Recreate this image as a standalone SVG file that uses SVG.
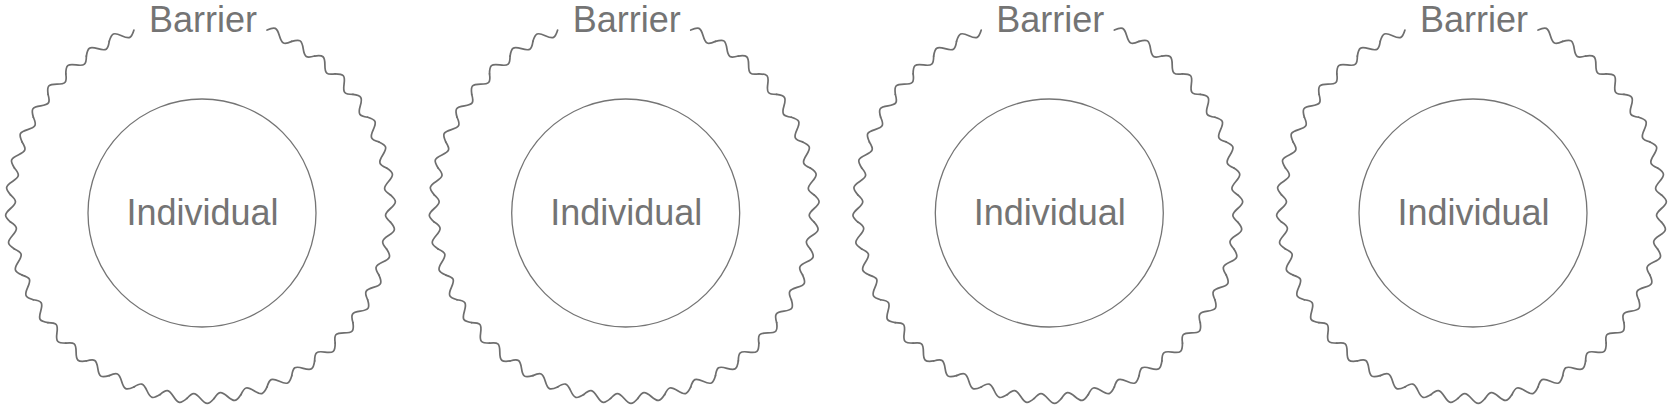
<svg xmlns="http://www.w3.org/2000/svg" xmlns:xlink="http://www.w3.org/1999/xlink" width="1677" height="409" viewBox="0 0 1677 409">
<style>
.wave{fill:none;stroke:#6e6e6e;stroke-width:1.7;stroke-linejoin:round;stroke-linecap:round}
.inner{fill:none;stroke:#747474;stroke-width:1.3}
.lbl{font-family:"Liberation Sans",Arial,sans-serif;font-size:36px;fill:#747474;text-anchor:middle}
</style>
<defs>
<path id="seg" class="wave" d="M-13.41,-187.52 C-7.78,-194.0 -5.63,-194.0 0,-187.52 C5.63,-181.04 7.78,-181.04 13.41,-187.52"/>
<g id="ring">
<use href="#seg" transform="rotate(24.545)"/>
<use href="#seg" transform="rotate(32.727)"/>
<use href="#seg" transform="rotate(40.909)"/>
<use href="#seg" transform="rotate(49.091)"/>
<use href="#seg" transform="rotate(57.273)"/>
<use href="#seg" transform="rotate(65.455)"/>
<use href="#seg" transform="rotate(73.636)"/>
<use href="#seg" transform="rotate(81.818)"/>
<use href="#seg" transform="rotate(90)"/>
<use href="#seg" transform="rotate(98.182)"/>
<use href="#seg" transform="rotate(106.364)"/>
<use href="#seg" transform="rotate(114.545)"/>
<use href="#seg" transform="rotate(122.727)"/>
<use href="#seg" transform="rotate(130.909)"/>
<use href="#seg" transform="rotate(139.091)"/>
<use href="#seg" transform="rotate(147.273)"/>
<use href="#seg" transform="rotate(155.455)"/>
<use href="#seg" transform="rotate(163.636)"/>
<use href="#seg" transform="rotate(171.818)"/>
<use href="#seg" transform="rotate(180)"/>
<use href="#seg" transform="rotate(188.182)"/>
<use href="#seg" transform="rotate(196.364)"/>
<use href="#seg" transform="rotate(204.545)"/>
<use href="#seg" transform="rotate(212.727)"/>
<use href="#seg" transform="rotate(220.909)"/>
<use href="#seg" transform="rotate(229.091)"/>
<use href="#seg" transform="rotate(237.273)"/>
<use href="#seg" transform="rotate(245.455)"/>
<use href="#seg" transform="rotate(253.636)"/>
<use href="#seg" transform="rotate(261.818)"/>
<use href="#seg" transform="rotate(270)"/>
<use href="#seg" transform="rotate(278.182)"/>
<use href="#seg" transform="rotate(286.364)"/>
<use href="#seg" transform="rotate(294.545)"/>
<use href="#seg" transform="rotate(302.727)"/>
<use href="#seg" transform="rotate(310.909)"/>
<use href="#seg" transform="rotate(319.091)"/>
<use href="#seg" transform="rotate(327.273)"/>
<use href="#seg" transform="rotate(335.455)"/>
</g>
</defs>
<rect width="1677" height="409" fill="#ffffff"/>
<g id="barrier-1">
<use href="#ring" transform="translate(200.5,208.5) scale(1.013)"/>
<text class="lbl" x="203" y="32">Barrier</text>
</g>
<g id="individual-1">
<circle class="inner" cx="202" cy="213" r="114"/>
<text class="lbl" x="202.5" y="224.5">Individual</text>
</g>
<g id="barrier-2">
<use href="#ring" transform="translate(624.2,208.5) scale(1.013)"/>
<text class="lbl" x="626.7" y="32">Barrier</text>
</g>
<g id="individual-2">
<circle class="inner" cx="625.7" cy="213" r="114"/>
<text class="lbl" x="626.2" y="224.5">Individual</text>
</g>
<g id="barrier-3">
<use href="#ring" transform="translate(1047.8,208.5) scale(1.013)"/>
<text class="lbl" x="1050.3" y="32">Barrier</text>
</g>
<g id="individual-3">
<circle class="inner" cx="1049.3" cy="213" r="114"/>
<text class="lbl" x="1049.8" y="224.5">Individual</text>
</g>
<g id="barrier-4">
<use href="#ring" transform="translate(1471.5,208.5) scale(1.013)"/>
<text class="lbl" x="1474" y="32">Barrier</text>
</g>
<g id="individual-4">
<circle class="inner" cx="1473" cy="213" r="114"/>
<text class="lbl" x="1473.5" y="224.5">Individual</text>
</g>
<g id="connectors"/>
</svg>
